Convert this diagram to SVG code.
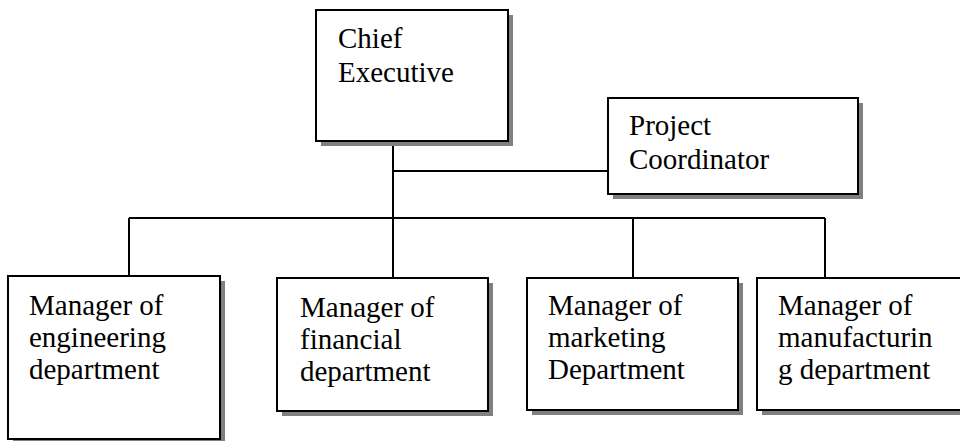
<svg xmlns="http://www.w3.org/2000/svg" width="960" height="441" viewBox="0 0 960 441">
  <style>
    .shadow { fill: #808080; stroke: none; }
    .box { fill: #ffffff; stroke: #000000; stroke-width: 2; }
    .link { fill: none; stroke: #000000; stroke-width: 2; }
    .label { font-size: 29px; fill: #000000; }
  </style>
  <rect width="960" height="441" fill="#ffffff"/>

  <!-- connectors -->
  <g id="connectors">
    <path class="link" d="M393,141 V284"/>
    <path class="link" d="M393,171 H608"/>
    <path class="link" d="M129,218 H825"/>
    <path class="link" d="M129,218 V284"/>
    <path class="link" d="M633,218 V284"/>
    <path class="link" d="M825,218 V284"/>
  </g>

  <g font-family="Liberation Serif, Times New Roman, serif">
    <g id="chief-executive">
      <rect class="shadow" x="321" y="15" width="192" height="131"/>
      <rect class="box" x="316" y="10" width="192" height="131"/>
      <text class="label" x="338" y="48">Chief</text>
      <text class="label" x="338" y="82">Executive</text>
    </g>

    <g id="project-coordinator">
      <rect class="shadow" x="613" y="103" width="250" height="96"/>
      <rect class="box" x="608" y="98" width="250" height="96"/>
      <text class="label" x="629" y="135">Project</text>
      <text class="label" x="629" y="169">Coordinator</text>
    </g>

    <g id="engineering-manager">
      <rect class="shadow" x="13" y="281" width="212" height="164"/>
      <rect class="box" x="8" y="276" width="212" height="163"/>
      <text class="label" x="29" y="315">Manager of</text>
      <text class="label" x="29" y="347">engineering</text>
      <text class="label" x="29" y="379">department</text>
    </g>

    <g id="financial-manager">
      <rect class="shadow" x="282" y="283" width="211" height="133"/>
      <rect class="box" x="277" y="278" width="211" height="133"/>
      <text class="label" x="300" y="317">Manager of</text>
      <text class="label" x="300" y="349">financial</text>
      <text class="label" x="300" y="381">department</text>
    </g>

    <g id="marketing-manager">
      <rect class="shadow" x="532" y="283" width="211" height="132"/>
      <rect class="box" x="527" y="278" width="211" height="132"/>
      <text class="label" x="548" y="315">Manager of</text>
      <text class="label" x="548" y="347">marketing</text>
      <text class="label" x="548" y="379">Department</text>
    </g>

    <g id="manufacturing-manager">
      <rect class="shadow" x="762" y="283" width="215" height="132"/>
      <rect class="box" x="757" y="278" width="215" height="132"/>
      <text class="label" x="778" y="315">Manager of</text>
      <text class="label" x="778" y="347">manufacturin</text>
      <text class="label" x="778" y="379">g department</text>
    </g>
  </g>
</svg>
